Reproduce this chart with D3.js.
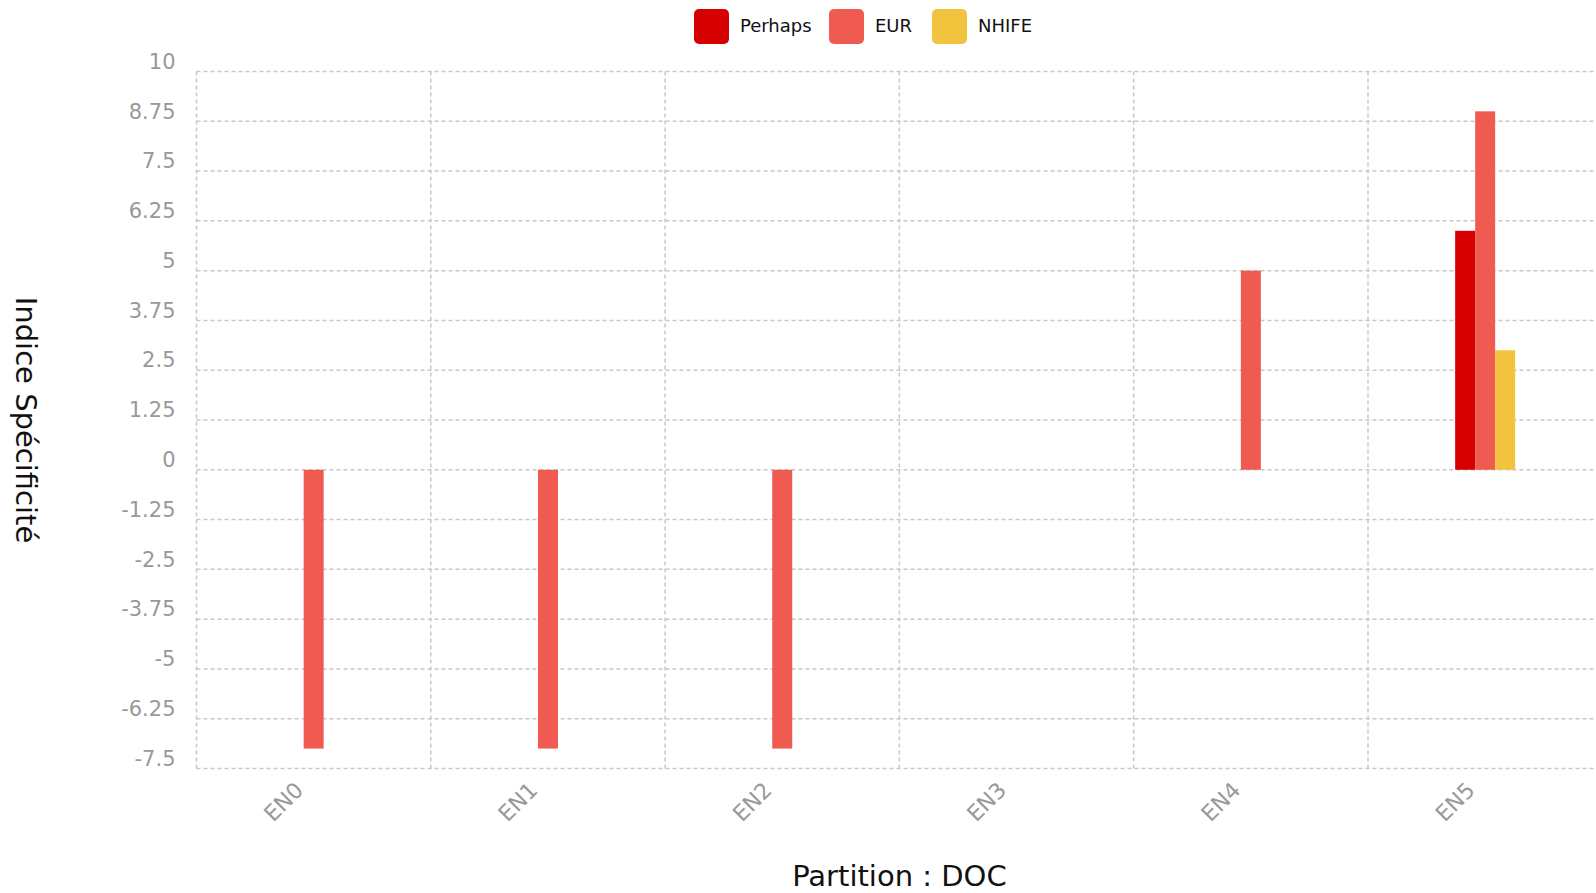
<!DOCTYPE html>
<html>
<head>
<meta charset="utf-8">
<script src="https://cdn.jsdelivr.net/npm/d3@7"></script>
<style>
	body { margin: 0; background: #fff; font-family: "DejaVu Sans", Verdana, sans-serif; }
	svg { display: block; }
	.grid line { stroke: #c8c8c8; stroke-dasharray: 4 3; stroke-width: 1.5; }
</style>
</head>
<body>
<script>
const w = 1596;
const h = 893;
const margin = { top: 71.5, right: -6.3, bottom: 124.5, left: 196.5 };

const categories = ["EN0", "EN1", "EN2", "EN3", "EN4", "EN5"];
const seriesNames = ["Perhaps", "EUR", "NHIFE"];
const perhapsValues = [0, 0, 0, 0, 0, 6];
const eurValues = [-7, -7, -7, 0, 5, 9];
const nhifeValues = [0, 0, 0, 0, 0, 3];
const yTicks = [-7.5, -6.25, -5, -3.75, -2.5, -1.25, 0, 1.25, 2.5, 3.75, 5, 6.25, 7.5, 8.75, 10];
const colors = ["#d60000", "#ef5b50", "#f2c43e"];

const seriesValues = [perhapsValues, eurValues, nhifeValues];
const rows = categories.map((c, i) => ({
	cat: c,
	vals: seriesNames.map((s, j) => ({ name: s, value: seriesValues[j][i] })),
}));

const svg = d3.select("body").append("svg").attr("width", w).attr("height", h);

// * SCALES
const xScale = d3.scaleBand().domain(categories).range([margin.left, w - margin.right]);
const yScale = d3.scaleLinear().domain([-7.5, 10]).range([h - margin.bottom, margin.top]);
const groupW = 60;
const x1 = d3.scaleBand().domain(seriesNames)
	.range([xScale.bandwidth() / 2 - groupW / 2, xScale.bandwidth() / 2 + groupW / 2]);

// * GRID
const grid = svg.append("g").attr("class", "grid");
grid.selectAll(".hl").data(yTicks).enter().append("line")
	.attr("x1", margin.left).attr("x2", w)
	.attr("y1", (d) => yScale(d)).attr("y2", (d) => yScale(d));
grid.selectAll(".vl").data(categories).enter().append("line")
	.attr("x1", (d) => xScale(d)).attr("x2", (d) => xScale(d))
	.attr("y1", margin.top).attr("y2", h - margin.bottom);

// * Y AXIS
const yAxis = d3.axisLeft(yScale).tickValues(yTicks).tickSize(0).tickPadding(21)
	.tickFormat((d) => String(d));
svg.append("g")
	.attr("transform", "translate(" + margin.left + ",-10)")
	.call(yAxis)
	.call((g) => g.select(".domain").remove())
	.call((g) => g.selectAll("text").attr("fill", "#999").style("font-size", "21px")
		.style("font-family", "DejaVu Sans"));

// * X AXIS
const xAxis = d3.axisBottom(xScale).tickSize(0);
svg.append("g")
	.attr("transform", "translate(0," + (h - margin.bottom) + ")")
	.call(xAxis)
	.call((g) => g.select(".domain").remove())
	.call((g) => g.selectAll("text")
		.attr("fill", "#999")
		.style("font-size", "22px")
		.style("font-family", "DejaVu Sans")
		.attr("text-anchor", "end")
		.attr("y", 0)
		.attr("dy", null)
		.attr("transform", "translate(-9,23) rotate(-45)"));

// * BARS
const groups = svg.selectAll(".grp").data(rows).enter().append("g")
	.attr("transform", (d) => "translate(" + xScale(d.cat) + ",0)");
groups.selectAll("rect").data((d) => d.vals).enter().append("rect")
	.attr("x", (d) => x1(d.name))
	.attr("width", x1.bandwidth())
	.attr("y", (d) => yScale(Math.max(0, d.value)))
	.attr("height", (d) => Math.abs(yScale(d.value) - yScale(0)))
	.attr("fill", (d, i) => colors[i]);

// * LEGEND
const legendX = [694, 829, 932];
const legend = svg.selectAll(".lg").data(seriesNames).enter().append("g")
	.attr("transform", (d, i) => "translate(" + legendX[i] + ",9)");
legend.append("rect").attr("width", 35).attr("height", 35).attr("rx", 5)
	.attr("fill", (d, i) => colors[i]);
legend.append("text").attr("x", 46).attr("y", 23)
	.style("font-size", "18px").style("font-family", "DejaVu Sans")
	.attr("fill", "#111").text((d) => d);

// * TITLES
svg.append("text")
	.attr("transform", "translate(16,420) rotate(90)")
	.attr("text-anchor", "middle")
	.style("font-size", "29px").attr("fill", "#111")
	.text("Indice Spécificité");
svg.append("text")
	.attr("x", (margin.left + w - margin.right) / 2).attr("y", 886)
	.attr("text-anchor", "middle")
	.style("font-size", "29px").attr("fill", "#111")
	.text("Partition : DOC");
</script>
</body>
</html>
